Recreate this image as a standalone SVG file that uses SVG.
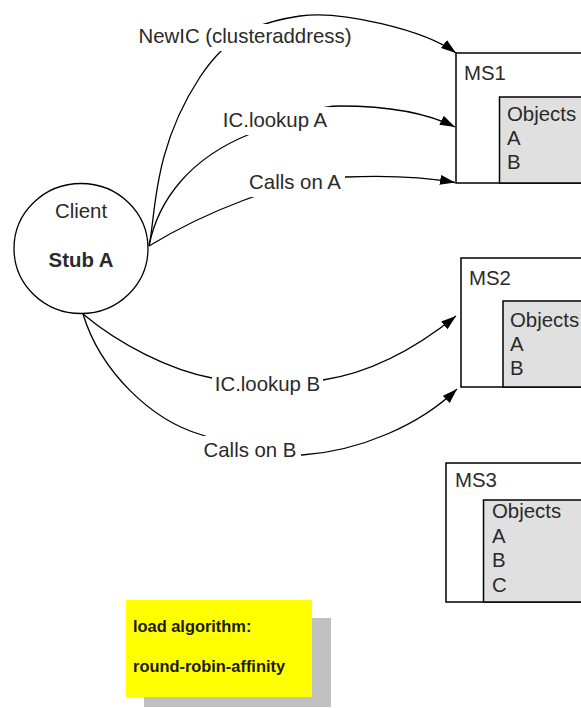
<svg xmlns="http://www.w3.org/2000/svg" width="581" height="708" viewBox="0 0 581 708">
  <style>
    text { font-family: "Liberation Sans", Arial, Helvetica, sans-serif; fill: #2a2a2a; }
    .t { font-size: 20.4px; }
    .b { font-weight: bold; }
    .n { font-size: 16.4px; font-weight: bold; fill: #1a1a1a; }
    .box { fill: #ffffff; stroke: #000000; stroke-width: 1.5; }
    .obj { fill: #e0e0e0; stroke: #000000; stroke-width: 1.5; }
    .edge { fill: none; stroke: #000000; stroke-width: 1.3; marker-end: url(#arrow); }
    .lbl { fill: #ffffff; stroke: none; }
  </style>
  <defs>
    <marker id="arrow" markerUnits="userSpaceOnUse" markerWidth="16" markerHeight="10" refX="15" refY="5" orient="auto">
      <path d="M0,0 L15,5 L0,10 z" fill="#000000"/>
    </marker>
  </defs>
  <rect width="581" height="708" fill="#ffffff"/>

  <g id="client">
    <ellipse cx="81" cy="248.5" rx="67" ry="65" fill="#ffffff" stroke="#000000" stroke-width="1.3"/>
    <text class="t" x="81" y="218" text-anchor="middle">Client</text>
    <text class="t b" x="81" y="267" text-anchor="middle">Stub A</text>
  </g>

  <g id="ms1">
    <rect class="box" x="456" y="53" width="200" height="130"/>
    <rect class="obj" x="499.5" y="97" width="200" height="86"/>
    <text class="t" x="464" y="80">MS1</text>
    <text class="t" x="507" y="121">Objects</text>
    <text class="t" x="507" y="145">A</text>
    <text class="t" x="507" y="169">B</text>
  </g>

  <g id="ms2">
    <rect class="box" x="461" y="258" width="200" height="129"/>
    <rect class="obj" x="503" y="301" width="200" height="86"/>
    <text class="t" x="469" y="285">MS2</text>
    <text class="t" x="510" y="327">Objects</text>
    <text class="t" x="510" y="351">A</text>
    <text class="t" x="510" y="375">B</text>
  </g>

  <g id="ms3">
    <rect class="box" x="446" y="463" width="200" height="139"/>
    <rect class="obj" x="483.5" y="500" width="200" height="102"/>
    <text class="t" x="455" y="487">MS3</text>
    <text class="t" x="492" y="518">Objects</text>
    <text class="t" x="492" y="543">A</text>
    <text class="t" x="492" y="567">B</text>
    <text class="t" x="492" y="592">C</text>
  </g>

  <g id="note">
    <rect x="144" y="618" width="187" height="89" fill="#c0c0c0"/>
    <rect x="126" y="600" width="186" height="97" fill="#ffff00"/>
    <text class="n" x="133" y="632">load algorithm:</text>
    <text class="n" x="133" y="672">round-robin-affinity</text>
  </g>

  <g id="connectors">
    <path class="edge" d="M149,246 C156,215 152,150 200,77 C230,32 260,22 300,16 C340,10 425,30 456,53"/>
    <path class="edge" d="M149,246 C158,200 190,158 250,134 C290,118 315,106 340,106 C385,106 425,112 455,127"/>
    <path class="edge" d="M149,246 C200,215 280,180 345,177 C390,175 430,178 455,182.5"/>
    <path class="edge" d="M83,314 C120,345 170,370 212,378 C250,386 290,386 323,380 C375,372 420,345 456,316"/>
    <path class="edge" d="M83,314 C100,370 150,420 202,435 C235,445 270,457 302,455 C360,451 420,425 457,389"/>

    <rect class="lbl" x="133" y="24" width="224" height="27"/>
    <text class="t" x="245" y="43" text-anchor="middle">NewIC (clusteraddress)</text>

    <rect class="lbl" x="220" y="107" width="111" height="28"/>
    <text class="t" x="275" y="127" text-anchor="middle">IC.lookup A</text>

    <rect class="lbl" x="247" y="172" width="98" height="25"/>
    <text class="t" x="295" y="189" text-anchor="middle">Calls on A</text>

    <rect class="lbl" x="212" y="372" width="111" height="25"/>
    <text class="t" x="267.5" y="391" text-anchor="middle">IC.lookup B</text>

    <rect class="lbl" x="202" y="436" width="99" height="26"/>
    <text class="t" x="250" y="457" text-anchor="middle">Calls on B</text>
  </g>
</svg>
